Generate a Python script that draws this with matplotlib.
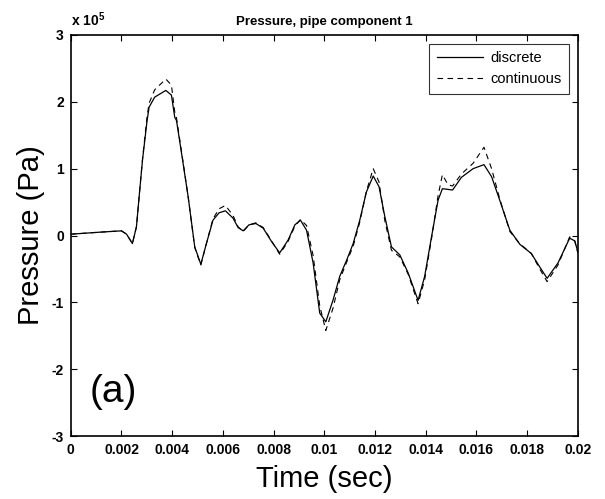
import matplotlib
matplotlib.use('Agg')
import matplotlib.pyplot as plt
import numpy as np
from matplotlib.ticker import FuncFormatter

# time axis (s) and pressure readings (units of 1e5 Pa)
time_s = [0.0, 0.00114, 0.0020, 0.0022, 0.00243, 0.00259, 0.00272, 0.00283, 0.00301, 0.00309,
          0.00331, 0.00375, 0.00397, 0.0041, 0.00417, 0.00441, 0.00463, 0.00489, 0.00513, 0.00535,
          0.00561, 0.00585, 0.0061, 0.0064, 0.0066, 0.0068, 0.00703, 0.0073, 0.00759, 0.00792,
          0.00824, 0.00857, 0.00884, 0.00906, 0.0093, 0.00956, 0.00982, 0.01006, 0.01035, 0.01061,
          0.01088, 0.01114, 0.0114, 0.01166, 0.01193, 0.01216, 0.01239, 0.01265, 0.01298, 0.01331,
          0.0137, 0.01396, 0.01423, 0.01449, 0.01466, 0.01488, 0.01506, 0.01541, 0.01587, 0.0163,
          0.0166, 0.01692, 0.01732, 0.01771, 0.01817, 0.0185, 0.01879, 0.01922, 0.01968, 0.01988,
          0.02]

p_discrete = [0.02, 0.05, 0.07, 0.02, -0.12, 0.13, 0.68, 1.13, 1.72, 1.92,
              2.07, 2.17, 2.10, 1.77, 1.72, 1.13, 0.58, -0.17, -0.43, -0.12,
              0.23, 0.34, 0.37, 0.26, 0.12, 0.07, 0.16, 0.18, 0.11, -0.09,
              -0.26, -0.07, 0.16, 0.23, 0.08, -0.41, -1.16, -1.29, -0.96, -0.61,
              -0.37, -0.12, 0.23, 0.65, 0.89, 0.73, 0.28, -0.17, -0.29, -0.56,
              -0.97, -0.61, -0.02, 0.53, 0.70, 0.69, 0.68, 0.87, 1.00, 1.06,
              0.88, 0.53, 0.08, -0.13, -0.27, -0.47, -0.64, -0.41, -0.04, -0.08,
              -0.24]

p_continuous = [0.02, 0.05, 0.07, 0.02, -0.12, 0.13, 0.68, 1.15, 1.78, 1.98,
                2.18, 2.34, 2.25, 1.85, 1.76, 1.15, 0.58, -0.18, -0.44, -0.12,
                0.25, 0.40, 0.45, 0.30, 0.13, 0.06, 0.16, 0.19, 0.12, -0.08,
                -0.28, -0.09, 0.14, 0.24, 0.15, -0.30, -1.05, -1.42, -1.08, -0.66,
                -0.40, -0.16, 0.20, 0.66, 1.00, 0.80, 0.22, -0.22, -0.32, -0.58,
                -1.02, -0.66, -0.05, 0.60, 0.91, 0.76, 0.74, 0.92, 1.08, 1.32,
                1.00, 0.55, 0.06, -0.12, -0.27, -0.50, -0.69, -0.44, -0.02, -0.08,
                -0.26]

x_ticks = [0, 0.002, 0.004, 0.006, 0.008, 0.01, 0.012, 0.014, 0.016, 0.018, 0.02]
x_tick_labels = ['0', '0.002', '0.004', '0.006', '0.008', '0.01', '0.012', '0.014', '0.016', '0.018', '0.02']

plt.rcParams['font.family'] = ['Liberation Sans', 'DejaVu Sans']
plt.rcParams['mathtext.default'] = 'regular'

fig = plt.figure(figsize=(6.05, 4.99), dpi=100)
ax = fig.add_axes([0.117, 0.126, 0.838, 0.804])

t = np.array(time_s)
ax.plot(t, np.array(p_discrete) * 1e5, color='black', lw=0.9, label='discrete')
ax.plot(t, np.array(p_continuous) * 1e5, color='black', lw=0.8, linestyle=(0, (5, 4)), label='continuous')

ax.set_xlim(0, 0.02)
ax.set_ylim(-3e5, 3e5)
ax.set_xticks(x_ticks)
ax.set_xticklabels(x_tick_labels)
ax.set_yticks(np.arange(-3, 4) * 1e5)
ax.yaxis.set_major_formatter(FuncFormatter(lambda v, pos: '%d' % round(v / 1e5)))

ax.tick_params(direction='in', length=4, width=0.8, top=True, right=True, labelsize=10, pad=5)
for lab in ax.get_xticklabels() + ax.get_yticklabels():
    lab.set_fontweight('bold')
for s in ax.spines.values():
    s.set_linewidth(1.2)

ax.set_title('Pressure, pipe component 1', fontsize=9.5, fontweight='bold', pad=7)
ax.text(0.0, 1.015, r'x 10$^5$', transform=ax.transAxes, ha='left', va='bottom',
        fontsize=10, fontweight='bold')

ax.set_xlabel('Time (sec)', fontsize=21)
ax.set_ylabel('Pressure (Pa)', fontsize=21)
ax.xaxis.set_label_coords(0.5, -0.072)
ax.yaxis.set_label_coords(-0.05, 0.5)

ax.text(0.038, 0.085, '(a)', transform=ax.transAxes, fontsize=28, ha='left', va='baseline')

leg = ax.legend(loc='upper right', fontsize=10.5, handlelength=3.2, frameon=True, fancybox=False,
                borderaxespad=0.6, labelspacing=0.5, borderpad=0.5, handletextpad=0.5)
leg.get_frame().set_edgecolor('black')
leg.get_frame().set_linewidth(0.8)

fig.savefig('out.png', dpi=100)
